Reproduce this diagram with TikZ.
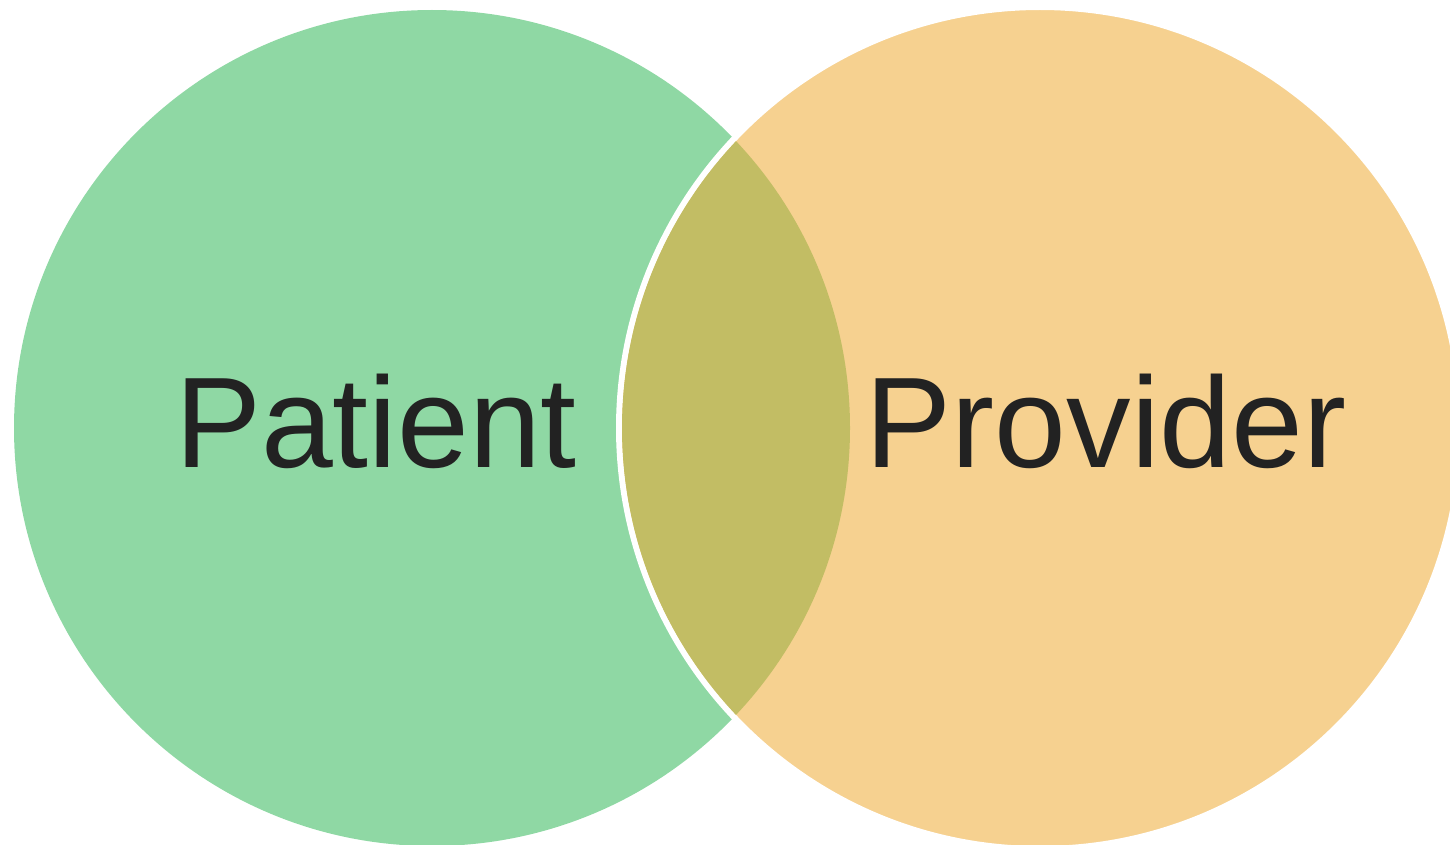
\documentclass[tikz,border=0pt]{standalone}
\usepackage{fontspec}
\setmainfont{Liberation Sans}
\usetikzlibrary{positioning}

\definecolor{patientgreen}{HTML}{8FD8A4}
\definecolor{providerorange}{HTML}{F6D190}
\definecolor{overlapolive}{HTML}{C2BD64}
\definecolor{labelgray}{HTML}{222222}

\begin{document}
\begin{tikzpicture}[x=1pt, y=-1pt]

% Define styles for the sets and their names
\tikzstyle{set} = [circle, minimum size=836pt, inner sep=0pt, outer sep=0pt]
\tikzstyle{setname} = [text=labelgray, font=\fontsize{129}{129}\selectfont, inner sep=0pt, anchor=base]

\useasboundingbox (0,0) rectangle (1450,845);
\clip (0,0) rectangle (1450,845);

% Sets
\node (patient) [set, fill=patientgreen] at (432,428) {};
\node (provider) [set, minimum size=842pt, fill=providerorange, draw=white, line width=6pt] at (1040,428) {};

% Overlap of the two sets
\begin{scope}
  \clip (patient.center) circle (418pt);
  \fill[overlapolive] (provider.center) circle (418pt);
\end{scope}

% Names
\node (patientname) [setname] at (376,467) {Patient};
\node (providername) [setname] at (1106,467) {Provider};

\end{tikzpicture}
\end{document}
